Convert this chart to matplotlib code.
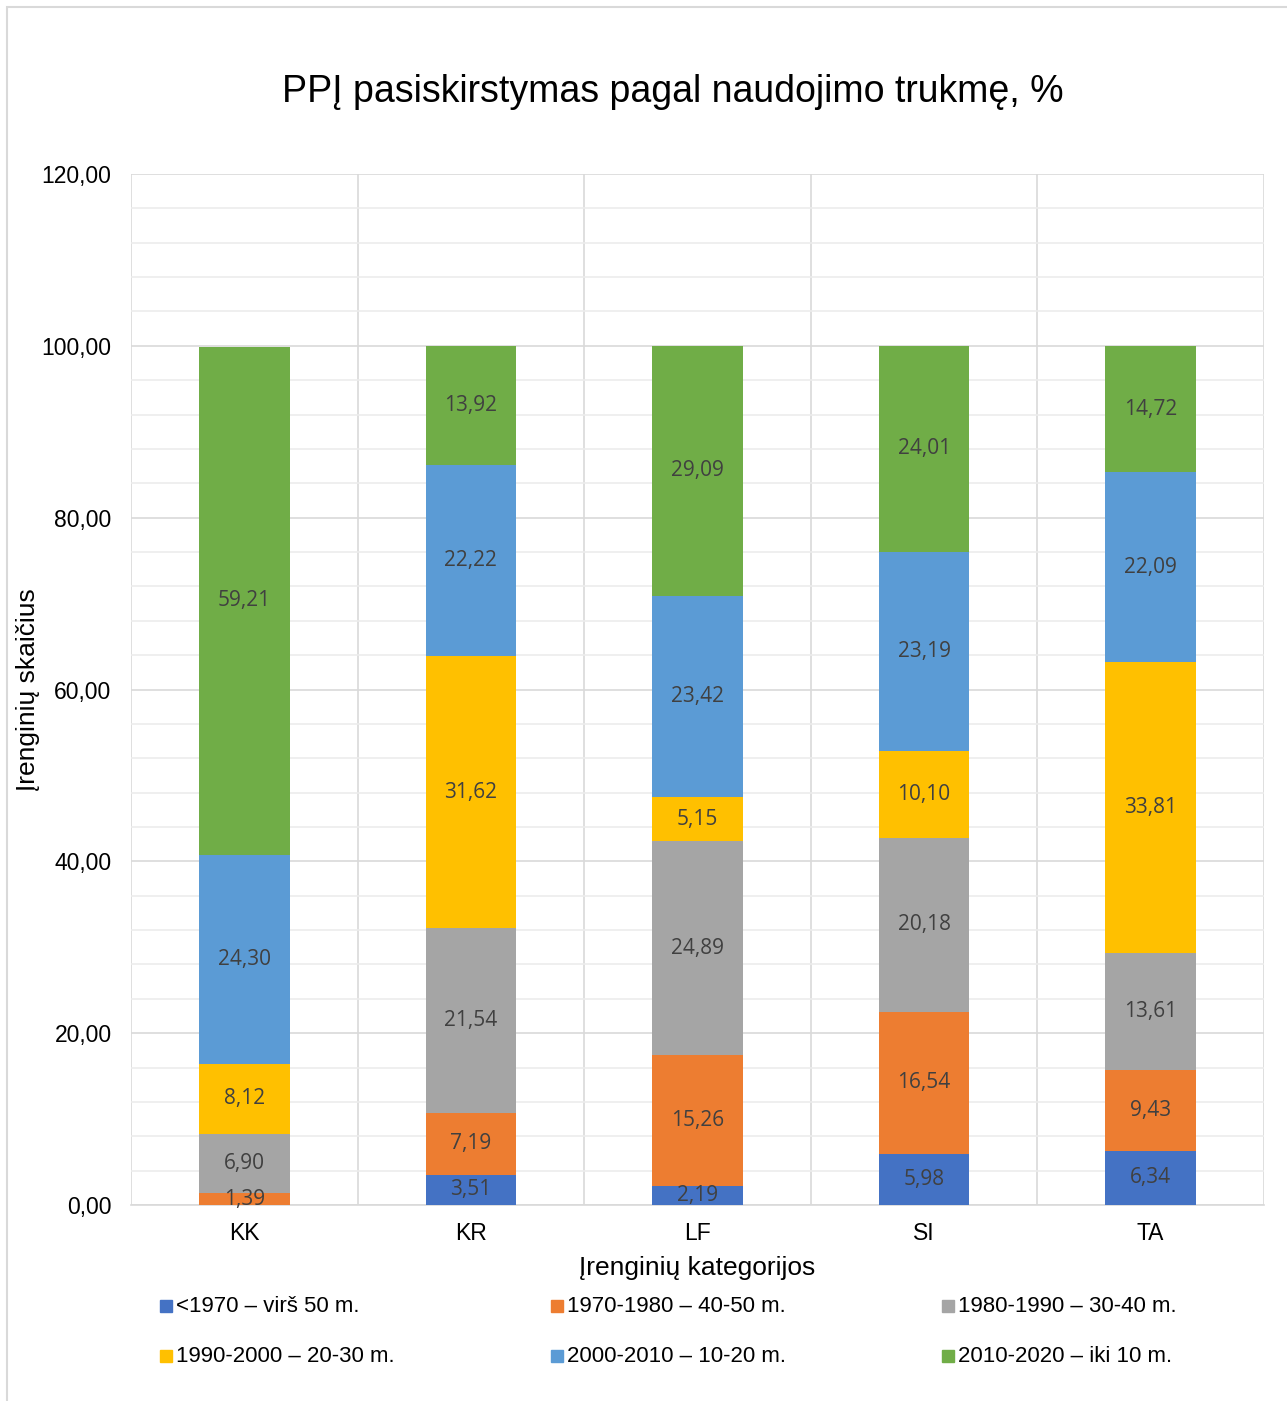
import numpy as np
import matplotlib.pyplot as plt
from matplotlib import patches

plt.rcParams['font.family'] = ['Liberation Sans', 'DejaVu Sans']

## data

categories = ['KK', 'KR', 'LF', 'SI', 'TA']
series_labels = ['<1970 – virš 50 m.', '1970-1980 – 40-50 m.', '1980-1990 – 30-40 m.',
                 '1990-2000 – 20-30 m.', '2000-2010 – 10-20 m.', '2010-2020 – iki 10 m.']
colors = ['#4472C4', '#ED7D31', '#A5A5A5', '#FFC000', '#5B9BD5', '#70AD47']

s_1970 = [0.00, 3.51, 2.19, 5.98, 6.34]
s_1980 = [1.39, 7.19, 15.26, 16.54, 9.43]
s_1990 = [6.90, 21.54, 24.89, 20.18, 13.61]
s_2000 = [8.12, 31.62, 5.15, 10.10, 33.81]
s_2010 = [24.30, 22.22, 23.42, 23.19, 22.09]
s_2020 = [59.21, 13.92, 29.09, 24.01, 14.72]
series = [s_1970, s_1980, s_1990, s_2000, s_2010, s_2020]

yticks = np.arange(0, 121, 20)

## figure

fig = plt.figure(figsize=(12.87, 14.01), dpi=100)
ax = fig.add_axes([0.1018, 0.1399, 0.8803, 0.7359])

x = np.arange(len(categories))
bottom = np.zeros(len(categories))
for vals, col in zip(series, colors):
	vals = np.array(vals)
	ax.bar(x, vals, 0.4, bottom=bottom, color=col, zorder=3)
	for xi, b, v in zip(x, bottom, vals):
		if v > 0:
			ax.text(xi, b + v/2, f'{v:.2f}'.replace('.', ','), ha='center', va='center',
					fontsize=15, color='#404040', family='Open Sans', zorder=4)
	bottom += vals

ax.set_xlim(-0.5, len(categories) - 0.5)
ax.set_ylim(0, 120)
ax.set_yticks(yticks)
ax.set_yticklabels([f'{t:.2f}'.replace('.', ',') for t in yticks], fontsize=16.5)
ax.set_yticks(np.arange(0, 121, 4), minor=True)
ax.set_xticks(x)
ax.set_xticklabels(categories, fontsize=16.5)
ax.tick_params(axis='both', which='both', length=0)
ax.tick_params(axis='y', pad=14)
ax.tick_params(axis='x', pad=12)

ax.grid(axis='y', which='major', color='#d9d9d9', lw=1.2, zorder=0)
ax.grid(axis='y', which='minor', color='#ececec', lw=1.2, zorder=0)
for xb in np.arange(-0.5, len(categories)):
	ax.axvline(xb, color='#d9d9d9', lw=1.2, zorder=1)

for s in ['top', 'right', 'left']:
	ax.spines[s].set_visible(False)
ax.spines['bottom'].set_color('#d9d9d9')
ax.spines['bottom'].set_linewidth(1.2)

ax.set_ylabel('Įrenginių skaičius', fontsize=19, va='center')
ax.yaxis.set_label_coords(-0.0909, 0.5)
ax.set_xlabel('Įrenginių kategorijos', fontsize=19, labelpad=8)

fig.text(0.5224, 1 - 92/1401, 'PPĮ pasiskirstymas pagal naudojimo trukmę, %',
		 ha='center', va='center', fontsize=27)

## legend laid out row-wise like the original
W, H = 1287., 1401.
for i, (lab, col) in enumerate(zip(series_labels, colors)):
	c, r = i % 3, i // 3
	xp = (160 + 391*c)/W
	yp = 1 - (1306 + 50*r)/H
	fig.patches.append(patches.Rectangle((xp, yp - 6/H), 12/W, 12/H,
					   transform=fig.transFigure, color=col, figure=fig))
	fig.text(xp + 16/W, yp, lab, ha='left', va='center', fontsize=16)

## outer frame
fig.patches.append(patches.Rectangle((7/W, -0.01), 1.02, 1 - 7/H + 0.01,
				   transform=fig.transFigure, fill=False, edgecolor='#d9d9d9',
				   lw=1.5, figure=fig))

fig.savefig('out.png', dpi=100)
